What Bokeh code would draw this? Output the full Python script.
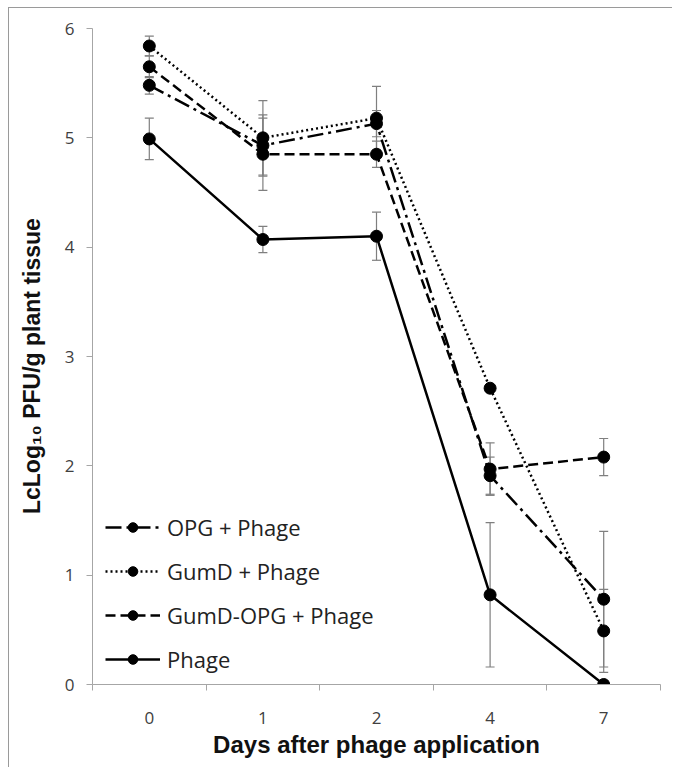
import math
from bokeh.plotting import figure
from bokeh.models import (FactorRange, Range1d, LinearAxis, FixedTicker, ColumnDataSource,
                          Whisker, TeeHead, Legend, LegendItem)
from bokeh.embed import file_html
from bokeh.resources import INLINE

# ---- data ----
days = ["0", "1", "2", "4", "7"]
series_names = ["OPG + Phage", "GumD + Phage", "GumD-OPG + Phage", "Phage"]
opg = [5.48, 4.93, 5.13, 1.91, 0.78]
opg_err = [0.08, 0.28, 0.12, 0.17, 0.62]
gumd = [5.84, 5.00, 5.18, 2.71, 0.49]
gumd_err = [0.09, 0.34, 0.29, 0.03, 0.38]
gumd_opg = [5.65, 4.85, 4.85, 1.97, 2.08]
gumd_opg_err = [0.10, 0.33, 0.12, 0.24, 0.17]
phage = [4.99, 4.07, 4.10, 0.82, 0.00]
phage_err = [0.19, 0.12, 0.22, 0.66, 0.00]
y_ticks = [0, 1, 2, 3, 4, 5, 6]

values = [opg, gumd, gumd_opg, phage]
errors = [opg_err, gumd_err, gumd_opg_err, phage_err]
dashes = ["16 5 3 5", "2 3", "10 5", "solid"]

GRID = "#a6a6a6"
TICKC = "#404040"

p = figure(width=664, height=760, x_range=FactorRange(factors=days, range_padding=0),
           y_range=Range1d(0, 6), x_axis_type=None, y_axis_type=None,
           output_backend="svg", toolbar_location=None,
           min_border_left=83, min_border_right=13, min_border_top=20, min_border_bottom=84)
p.outline_line_color = None
p.background_fill_color = "white"
p.border_fill_color = "white"
p.styles = {"margin-left": "8px", "margin-top": "7px",
            "border-left": "1px solid #9a9a9a", "border-top": "1px solid #9a9a9a"}

# y axis
yax = LinearAxis(ticker=FixedTicker(ticks=y_ticks, minor_ticks=[]))
yax.axis_line_color = GRID
yax.major_tick_line_color = GRID
yax.major_tick_out = 6
yax.major_tick_in = 0
yax.minor_tick_line_color = None
yax.major_label_text_font = "Open Sans"
yax.major_label_text_font_size = "17px"
yax.major_label_text_color = TICKC
yax.major_label_standoff = 12
# trailing no-break spaces nudge the centred title slightly downward, as in the reference
yax.axis_label = "LcLog\u2081\u2080 PFU/g plant tissue\u00a0\u00a0\u00a0"
yax.axis_label_text_font = "Liberation Sans"
yax.axis_label_text_font_style = "bold"
yax.axis_label_text_font_size = "23px"
yax.axis_label_text_color = "#111111"
yax.axis_label_standoff = 17
p.add_layout(yax, "left")

# x axis: labels at category centres, ticks at category boundaries
centers = [i + 0.5 for i in range(len(days))]
bounds = [float(i) for i in range(len(days) + 1)]
xax = LinearAxis(ticker=FixedTicker(ticks=centers, minor_ticks=bounds))
xax.major_label_overrides = {c: d for c, d in zip(centers, days)}
xax.axis_line_color = GRID
xax.major_tick_line_color = None
xax.major_tick_out = 0
xax.major_tick_in = 0
xax.minor_tick_line_color = GRID
xax.minor_tick_out = 6
xax.minor_tick_in = 0
xax.major_label_text_font = "Open Sans"
xax.major_label_text_font_size = "17px"
xax.major_label_text_color = TICKC
xax.major_label_standoff = 21
xax.axis_label = "Days after phage application"
xax.axis_label_text_font = "Liberation Sans"
xax.axis_label_text_font_style = "bold"
xax.axis_label_text_font_size = "24px"
xax.axis_label_text_color = "#111111"
xax.axis_label_standoff = 4
p.add_layout(xax, "below")

# horizontal grid
p.ygrid.grid_line_color = GRID
p.ygrid.grid_line_width = 1
p.ygrid.ticker = FixedTicker(ticks=y_ticks)

# error bars
nan = float("nan")
for vals, errs in zip(values, errors):
    src = ColumnDataSource(dict(x=days,
                                upper=[v + e if e > 0 else nan for v, e in zip(vals, errs)],
                                lower=[v - e if e > 0 else nan for v, e in zip(vals, errs)]))
    w = Whisker(source=src, base="x", upper="upper", lower="lower",
                line_color="#7f7f7f", line_width=1.2,
                upper_head=TeeHead(size=9, line_color="#7f7f7f", line_width=1.2),
                lower_head=TeeHead(size=9, line_color="#7f7f7f", line_width=1.2))
    p.add_layout(w)

items = []
for name, vals, dash in zip(series_names, values, dashes):
    src = ColumnDataSource(dict(x=days, y=vals))
    ln = p.line("x", "y", source=src, line_color="black", line_width=2.5, line_dash=dash)
    sc = p.scatter("x", "y", source=src, size=12, fill_color="black", line_color="black")
    items.append(LegendItem(label=name, renderers=[ln, sc]))

legend = Legend(items=items, location=(13, 10), orientation="vertical",
                glyph_width=55, glyph_height=24, label_height=24, spacing=14,
                label_standoff=7, padding=0, margin=0,
                border_line_color=None, background_fill_alpha=0,
                label_text_font="Open Sans", label_text_font_size="22px",
                label_text_color="#222222")
p.add_layout(legend)

open("out.html", "w").write(file_html(p, INLINE))
